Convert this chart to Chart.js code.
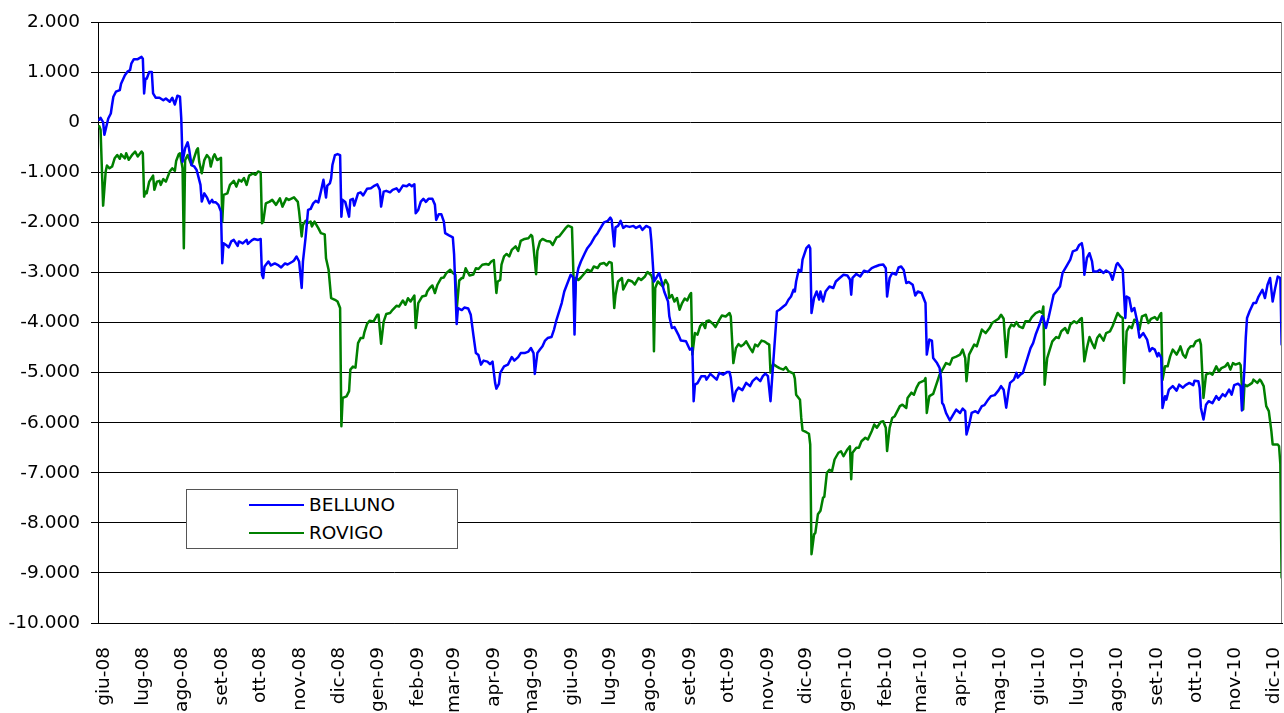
<!DOCTYPE html>
<html>
<head>
<meta charset="utf-8">
<script src="https://cdn.jsdelivr.net/npm/chart.js@4/dist/chart.umd.min.js"></script>
<style>
  html, body { margin: 0; padding: 0; background: #fff; }
  #wrap { position: relative; width: 1284px; height: 713px; }
  #legend { position: absolute; left: 186px; top: 489px; width: 270px; height: 58px;
            border: 1px solid #555; background: #fff; font-family: 'DejaVu Sans'; font-size: 18.5px; color: #000; }
  .item { position: absolute; left: 0; height: 22px; }
  .swatch { position: absolute; left: 62px; width: 55px; top: 10px; height: 0; border-top: 2.5px solid; }
  .lbl { position: absolute; left: 122px; top: 0; line-height: 22px; white-space: nowrap; }
</style>
</head>
<body>
<div id="wrap">
  <canvas id="c" width="1284" height="713"></canvas>
  <div id="legend"></div>
</div>
<script>
// ---- data -------------------------------------------------------------
// x = days since 1 June 2008, y = value
const monthLabels = ['giu-08','lug-08','ago-08','set-08','ott-08','nov-08','dic-08','gen-09','feb-09','mar-09','apr-09','mag-09','giu-09','lug-09','ago-09','set-09','ott-09','nov-09','dic-09','gen-10','feb-10','mar-10','apr-10','mag-10','giu-10','lug-10','ago-10','set-10','ott-10','nov-10','dic-10'];
const seriesNames = ['BELLUNO', 'ROVIGO'];
const yTicks = { min: -10000, max: 2000, step: 1000 };

const bellunoPoints = [[-4,50],[-3,90],[-1,0],[0,-250],[3,75],[5,175],[6,350],[7,510],[9,610],[12,640],[13,770],[16,940],[18,1010],[20,1040],[21,1170],[23,1260],[26,1260],[29,1305],[30,1270],[31,575],[32,870],[33,870],[35,1005],[37,1005],[38,575],[40,490],[43,490],[46,440],[48,475],[51,410],[53,490],[55,355],[57,530],[59,510],[60,75],[61,-790],[63,-520],[65,-400],[66,-520],[68,-855],[70,-880],[72,-955],[73,-1050],[75,-1250],[76,-1585],[78,-1420],[80,-1500],[82,-1620],[84,-1550],[85,-1600],[87,-1600],[89,-1650],[91,-1785],[92,-2815],[93,-2415],[95,-2450],[97,-2500],[99,-2380],[101,-2350],[104,-2470],[105,-2380],[108,-2420],[111,-2350],[112,-2430],[115,-2360],[117,-2330],[120,-2350],[122,-2330],[123,-3045],[124,-3110],[125,-2880],[128,-2780],[130,-2860],[133,-2820],[136,-2860],[138,-2900],[141,-2820],[143,-2840],[147,-2780],[148,-2760],[150,-2680],[152,-2780],[154,-3310],[155,-2780],[157,-2315],[159,-1750],[161,-1730],[163,-1620],[165,-1570],[167,-1600],[169,-1385],[171,-1150],[173,-1505],[174,-1265],[176,-1220],[177,-1120],[178,-855],[180,-655],[182,-635],[184,-655],[185,-1885],[186,-1550],[188,-1590],[191,-1885],[192,-1550],[194,-1530],[195,-1665],[198,-1420],[200,-1400],[202,-1460],[205,-1330],[208,-1320],[211,-1265],[213,-1240],[215,-1350],[216,-1685],[218,-1385],[220,-1370],[223,-1400],[225,-1350],[228,-1320],[230,-1385],[233,-1265],[236,-1280],[238,-1240],[240,-1280],[242,-1240],[243,-1815],[245,-1750],[247,-1585],[249,-1530],[251,-1590],[253,-1530],[256,-1530],[258,-1645],[259,-1950],[261,-1835],[263,-1835],[265,-1985],[266,-2215],[269,-2260],[272,-2300],[273,-2645],[275,-4030],[276,-3710],[279,-3750],[281,-3700],[284,-3720],[286,-3845],[288,-4240],[290,-4610],[292,-4650],[294,-4840],[296,-4760],[299,-4780],[301,-4830],[303,-4780],[305,-5205],[306,-5320],[308,-5225],[309,-5005],[312,-4875],[315,-4840],[318,-4690],[320,-4760],[323,-4690],[325,-4610],[328,-4610],[331,-4580],[333,-4510],[335,-4610],[336,-5025],[338,-4610],[340,-4540],[342,-4475],[344,-4360],[346,-4310],[349,-4290],[351,-4140],[353,-3940],[355,-3775],[357,-3610],[359,-3380],[362,-3180],[364,-3045],[366,-3100],[367,-4240],[368,-3180],[370,-2915],[372,-2780],[375,-2615],[377,-2515],[380,-2415],[383,-2280],[385,-2215],[388,-2085],[390,-2000],[393,-1970],[395,-1905],[396,-1950],[398,-2480],[399,-2100],[401,-2070],[403,-1970],[405,-2110],[407,-2070],[410,-2090],[413,-2070],[415,-2110],[418,-2070],[420,-2150],[423,-2070],[426,-2110],[427,-2380],[429,-3180],[431,-3100],[433,-3010],[435,-3180],[437,-3380],[440,-3580],[441,-3875],[443,-4110],[445,-4090],[448,-4240],[450,-4360],[454,-4375],[457,-4540],[459,-4510],[460,-5570],[461,-5240],[463,-5210],[466,-5070],[469,-5070],[470,-5140],[473,-5025],[475,-5070],[478,-5140],[480,-5005],[483,-5040],[486,-4990],[488,-4990],[489,-5100],[491,-5570],[493,-5370],[495,-5300],[498,-5350],[501,-5205],[504,-5270],[506,-5170],[509,-5100],[512,-5170],[514,-5070],[516,-5020],[518,-5070],[520,-5570],[525,-3775],[527,-3745],[530,-3680],[532,-3640],[534,-3545],[536,-3480],[538,-3345],[539,-3380],[540,-3180],[542,-2945],[544,-2980],[545,-2745],[548,-2515],[550,-2460],[551,-2515],[552,-3810],[554,-3510],[556,-3380],[558,-3540],[559,-3380],[561,-3580],[563,-3380],[566,-3280],[569,-3310],[571,-3180],[574,-3110],[577,-3045],[580,-3060],[582,-3140],[583,-3445],[584,-3110],[587,-3030],[590,-3080],[593,-2965],[596,-2990],[599,-2915],[602,-2880],[605,-2850],[608,-2840],[610,-2915],[611,-3480],[613,-3110],[615,-3010],[618,-3040],[620,-2900],[622,-2880],[624,-2950],[626,-3210],[628,-3190],[631,-3245],[633,-3460],[635,-3380],[638,-3410],[640,-3545],[641,-3610],[642,-4640],[644,-4340],[646,-4360],[647,-4710],[650,-4810],[652,-4905],[653,-5105],[654,-5605],[655,-5640],[657,-5805],[660,-5955],[663,-5825],[665,-5740],[668,-5805],[670,-5720],[672,-5770],[673,-6235],[675,-6050],[677,-5805],[680,-5770],[682,-5805],[685,-5670],[687,-5650],[690,-5535],[692,-5470],[695,-5450],[698,-5355],[700,-5270],[702,-5340],[704,-5700],[706,-5340],[707,-5205],[710,-5140],[712,-5005],[713,-5100],[715,-5040],[717,-5005],[719,-4840],[721,-4675],[723,-4510],[725,-4410],[727,-4240],[730,-4040],[732,-3875],[733,-3910],[735,-4110],[737,-3910],[739,-3680],[741,-3445],[743,-3380],[746,-3280],[748,-3010],[751,-2880],[754,-2745],[756,-2580],[759,-2550],[761,-2450],[763,-2415],[764,-2550],[765,-3045],[767,-2710],[769,-2615],[771,-2780],[772,-2980],[775,-2980],[777,-2945],[780,-3010],[782,-2960],[785,-3010],[787,-3145],[790,-2845],[791,-2810],[793,-2880],[795,-2950],[797,-3910],[798,-3480],[800,-3510],[802,-3775],[804,-3710],[806,-3945],[808,-4300],[811,-4210],[814,-4340],[816,-4575],[818,-4510],[820,-4540],[822,-4675],[823,-4610],[825,-4700],[826,-5705],[828,-5470],[829,-5540],[831,-5340],[834,-5270],[837,-5360],[839,-5240],[842,-5300],[844,-5250],[847,-5205],[850,-5250],[851,-5160],[854,-5170],[855,-5300],[856,-5705],[858,-5935],[860,-5640],[862,-5570],[865,-5610],[868,-5470],[870,-5540],[873,-5430],[875,-5470],[878,-5340],[880,-5440],[882,-5250],[885,-5220],[887,-5270],[888,-5755],[890,-4905],[891,-4310],[892,-3910],[894,-3775],[897,-3610],[899,-3610],[901,-3480],[904,-3345],[906,-3510],[908,-3245],[910,-3110],[912,-3580],[914,-3310],[916,-3080],[918,-3110],[919,-4440]];

const rovigoPoints = [[-4,-80],[-3,-150],[-1,-1665],[1,-985],[2,-865],[4,-920],[6,-885],[8,-720],[10,-655],[12,-730],[13,-640],[16,-720],[17,-620],[19,-750],[22,-640],[24,-585],[26,-685],[29,-585],[30,-620],[31,-1485],[32,-1385],[33,-1420],[35,-1185],[38,-1065],[39,-1350],[41,-1185],[43,-1170],[44,-1250],[46,-1135],[48,-1185],[51,-985],[53,-920],[55,-970],[56,-775],[58,-640],[59,-620],[61,-920],[62,-2515],[63,-755],[65,-655],[68,-855],[69,-790],[72,-555],[73,-520],[74,-790],[76,-1020],[78,-755],[80,-655],[82,-720],[83,-885],[85,-690],[86,-640],[88,-755],[91,-710],[92,-1985],[93,-1450],[96,-1420],[98,-1250],[101,-1170],[103,-1285],[105,-1150],[107,-1185],[109,-1115],[111,-1250],[113,-1065],[116,-1020],[118,-1050],[120,-985],[122,-1000],[123,-2015],[124,-1985],[126,-1620],[129,-1585],[131,-1550],[134,-1650],[137,-1520],[139,-1685],[142,-1520],[144,-1550],[148,-1500],[151,-1590],[152,-1785],[154,-2280],[155,-2050],[157,-1970],[159,-2010],[161,-1985],[162,-2080],[164,-1985],[167,-2115],[169,-2215],[172,-2240],[173,-2715],[175,-2945],[177,-3510],[180,-3545],[182,-3580],[184,-3710],[185,-6070],[186,-5505],[189,-5475],[191,-5370],[192,-4940],[194,-4880],[196,-4900],[198,-4410],[200,-4310],[202,-4310],[203,-4190],[205,-4030],[207,-3965],[210,-3980],[213,-3845],[214,-3845],[216,-4425],[218,-3980],[220,-3830],[223,-3810],[225,-3745],[228,-3665],[230,-3680],[233,-3560],[235,-3645],[237,-3515],[239,-3580],[242,-3460],[243,-4110],[245,-3610],[248,-3480],[251,-3460],[252,-3380],[254,-3310],[256,-3260],[258,-3410],[260,-3245],[263,-3110],[265,-3100],[267,-3010],[270,-2945],[272,-3010],[274,-3045],[275,-3745],[277,-3160],[279,-3110],[280,-3110],[282,-2915],[285,-3060],[288,-3040],[290,-2915],[292,-2930],[295,-2845],[298,-2830],[300,-2845],[302,-2780],[304,-2750],[306,-3410],[307,-3180],[309,-3150],[310,-2845],[312,-2680],[314,-2630],[316,-2680],[318,-2550],[321,-2480],[323,-2570],[325,-2370],[328,-2330],[331,-2315],[333,-2250],[334,-2280],[335,-2500],[337,-3035],[338,-2570],[340,-2380],[342,-2330],[345,-2370],[348,-2380],[350,-2450],[353,-2300],[355,-2280],[358,-2180],[360,-2115],[362,-2065],[365,-2100],[367,-3710],[368,-3110],[370,-3150],[372,-3100],[375,-3010],[377,-2945],[380,-2980],[382,-2880],[385,-2910],[387,-2830],[390,-2810],[392,-2860],[394,-2790],[396,-2810],[398,-3710],[399,-3450],[401,-3180],[404,-3110],[405,-3340],[407,-3240],[409,-3150],[412,-3180],[414,-3240],[417,-3110],[419,-3150],[422,-3080],[424,-2990],[427,-3060],[428,-3150],[429,-4575],[430,-3310],[432,-3180],[434,-3230],[436,-3280],[438,-3150],[440,-3240],[441,-3510],[443,-3450],[445,-3580],[447,-3510],[449,-3745],[451,-3610],[453,-3520],[455,-3560],[457,-3445],[458,-3410],[459,-4640],[461,-4210],[463,-4240],[465,-4075],[467,-4010],[469,-4110],[470,-3975],[472,-3960],[475,-4025],[477,-4090],[480,-3945],[482,-3860],[485,-3880],[488,-3810],[489,-3880],[491,-4810],[493,-4510],[495,-4430],[497,-4475],[499,-4440],[501,-4375],[504,-4510],[506,-4590],[508,-4440],[510,-4475],[513,-4360],[515,-4375],[517,-4410],[519,-4440],[520,-5000],[522,-4830],[525,-4880],[527,-4910],[530,-4940],[532,-4890],[534,-4970],[538,-5020],[539,-5120],[540,-5440],[543,-5540],[544,-5905],[545,-6155],[548,-6190],[550,-6220],[551,-6435],[552,-8625],[554,-8230],[555,-8200],[557,-7830],[559,-7760],[561,-7500],[562,-7480],[564,-7000],[566,-6940],[568,-6970],[570,-6735],[573,-6600],[575,-6570],[577,-6670],[580,-6535],[582,-6470],[583,-7130],[584,-6600],[587,-6500],[589,-6500],[591,-6370],[594,-6300],[596,-6335],[599,-6170],[601,-6035],[603,-6100],[606,-5985],[608,-5970],[610,-6100],[611,-6565],[613,-6100],[615,-5905],[617,-5870],[619,-5770],[621,-5670],[623,-5640],[626,-5705],[627,-5505],[630,-5400],[632,-5440],[634,-5300],[636,-5205],[639,-5170],[640,-5160],[641,-5110],[642,-5805],[644,-5470],[646,-5440],[647,-5425],[652,-5040],[655,-4905],[657,-4810],[660,-4840],[662,-4710],[665,-4680],[668,-4640],[670,-4540],[672,-4710],[673,-5170],[675,-4640],[677,-4540],[679,-4440],[681,-4475],[683,-4310],[685,-4140],[688,-4210],[691,-4110],[693,-4010],[695,-3975],[698,-3925],[700,-3845],[702,-3925],[704,-4690],[706,-4140],[708,-4040],[710,-4075],[712,-3990],[714,-4075],[717,-4110],[719,-3975],[722,-3975],[724,-3890],[727,-3810],[730,-3775],[732,-3810],[733,-3680],[734,-5240],[736,-4710],[738,-4540],[740,-4375],[743,-4290],[745,-4310],[747,-4175],[750,-4110],[752,-4210],[754,-4040],[757,-3975],[759,-4010],[762,-3925],[763,-3910],[765,-4775],[767,-4510],[769,-4290],[771,-4410],[773,-4510],[775,-4310],[777,-4240],[780,-4360],[782,-4210],[785,-4175],[787,-4075],[790,-3875],[791,-3810],[793,-3875],[795,-3910],[796,-5205],[798,-4175],[800,-4075],[802,-4110],[804,-3945],[806,-3960],[808,-4140],[810,-3875],[813,-3845],[815,-4010],[817,-3925],[820,-3890],[822,-3945],[824,-3845],[825,-3810],[826,-5150],[828,-4875],[830,-4875],[832,-4675],[834,-4540],[837,-4640],[839,-4540],[840,-4475],[842,-4640],[844,-4700],[846,-4540],[848,-4475],[850,-4475],[852,-4375],[855,-4340],[856,-4440],[858,-5505],[860,-5040],[863,-5005],[865,-5040],[868,-4875],[870,-4975],[872,-4910],[875,-4875],[877,-4810],[879,-4940],[881,-4810],[883,-4840],[886,-4810],[887,-4850],[889,-5735],[890,-5240],[892,-5270],[894,-5240],[896,-5205],[897,-5140],[900,-5205],[902,-5140],[903,-5170],[905,-5270],[907,-5670],[909,-5770],[911,-6170],[912,-6435],[916,-6435],[917,-6470],[918,-6830],[919,-9090]];

// ---- helpers ----------------------------------------------------------
const DAY = 86400000;
const monthDays = monthLabels.map((_, i) => Math.round((Date.UTC(2008, 5 + i, 1) - Date.UTC(2008, 5, 1)) / DAY));
const labelByDay = {};
monthDays.forEach((d, i) => { labelByDay[d] = monthLabels[i]; });
function fmtIt(v) {
  const s = Math.abs(v).toString().replace(/\B(?=(\d{3})+(?!\d))/g, '.');
  return (v < 0 ? '-' : '') + s;
}
const toXY = pts => pts.map(p => ({ x: p[0], y: p[1] }));

const FONT = { family: 'DejaVu Sans', size: 18.5 };
const colors = ['#0000FF', '#008000'];

const framePlugin = {
  id: 'frame',
  afterDraw(chart) {
    const a = chart.chartArea, ctx = chart.ctx;
    ctx.save();
    ctx.strokeStyle = '#808080';
    ctx.lineWidth = 1;
    ctx.beginPath();
    ctx.moveTo(Math.round(a.right) - 0.5, a.top);
    ctx.lineTo(Math.round(a.right) - 0.5, a.bottom);
    ctx.stroke();
    ctx.restore();
  }
};

const chart = new Chart(document.getElementById('c'), {
  type: 'line',
  data: {
    datasets: [
      { label: seriesNames[0], data: toXY(bellunoPoints), borderColor: colors[0], backgroundColor: colors[0] },
      { label: seriesNames[1], data: toXY(rovigoPoints), borderColor: colors[1], backgroundColor: colors[1] }
    ]
  },
  options: {
    responsive: false,
    animation: false,
    devicePixelRatio: 1,
    layout: { padding: { top: 20, right: 2, bottom: 0, left: 0 } },
    elements: {
      line: { borderWidth: 2.5, tension: 0, borderJoinStyle: 'round', borderCapStyle: 'round' },
      point: { radius: 0, hitRadius: 0, hoverRadius: 0 }
    },
    plugins: { legend: { display: false }, tooltip: { enabled: false } },
    scales: {
      x: {
        type: 'linear',
        min: -5,
        max: 919.3,
        afterBuildTicks: scale => { scale.ticks = monthDays.map(d => ({ value: d })); },
        afterFit: scale => { scale.height = 90; scale.paddingLeft = 0; scale.paddingRight = 0; },
        grid: { display: false, drawTicks: false },
        border: { display: true, color: '#000', width: 1 },
        ticks: {
          autoSkip: false, minRotation: 90, maxRotation: 90, padding: 24,
          color: '#000', font: FONT,
          callback: v => labelByDay[v] !== undefined ? labelByDay[v] : ''
        }
      },
      y: {
        min: yTicks.min,
        max: yTicks.max,
        afterFit: scale => { scale.width = 98; },
        grid: { color: '#000', lineWidth: 1, tickLength: 7, tickColor: '#000' },
        border: { display: true, color: '#000', width: 1 },
        ticks: { stepSize: yTicks.step, padding: 11, color: '#000', font: FONT, callback: v => fmtIt(v) }
      }
    }
  },
  plugins: [framePlugin]
});

// ---- legend (HTML, built from datasets) -------------------------------
const legend = document.getElementById('legend');
chart.data.datasets.forEach((ds, i) => {
  const item = document.createElement('div');
  item.className = 'item';
  item.style.top = (i === 0 ? 4 : 32) + 'px';
  item.style.width = '100%';
  const sw = document.createElement('div');
  sw.className = 'swatch';
  sw.style.borderTopColor = ds.borderColor;
  const lb = document.createElement('div');
  lb.className = 'lbl';
  lb.textContent = ds.label;
  item.appendChild(sw); item.appendChild(lb);
  legend.appendChild(item);
});
</script>
</body>
</html>
